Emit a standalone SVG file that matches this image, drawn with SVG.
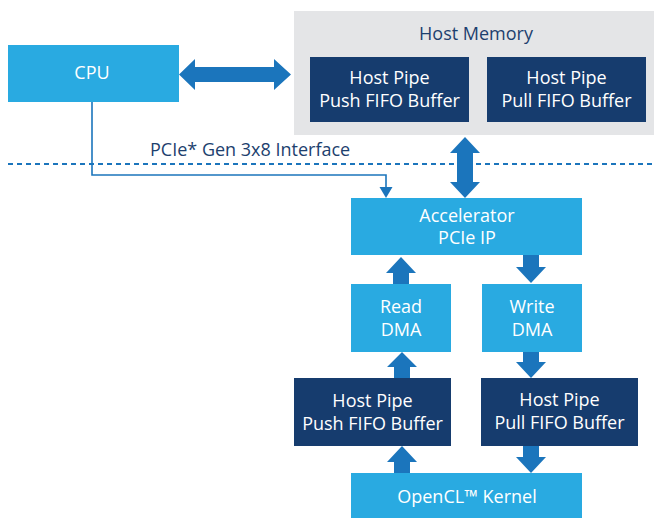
<svg xmlns="http://www.w3.org/2000/svg" width="654" height="519" viewBox="0 0 654 519">
<style>
.lb{fill:#29aae1}
.nv{fill:#163c6e}
.ar{fill:#1b75bc}
.tw{fill:#ffffff;font-family:"Open Sans","Noto Sans",sans-serif;font-size:18px;text-anchor:middle}
.td{fill:#1d3f6e;font-family:"Open Sans","Noto Sans",sans-serif;font-size:18px}
</style>
<rect width="654" height="519" fill="#ffffff"/>
<g id="host-memory">
<rect x="294" y="11" width="360" height="124" fill="#e4e5e7"/>
<text class="td" x="476" y="40" text-anchor="middle" font-size="18.5">Host Memory</text>
</g>
<g id="host-push-top">
<rect class="nv" x="310" y="57" width="159" height="65"/>
<text class="tw" x="389.5" y="84">Host Pipe</text>
<text class="tw" x="389.5" y="107">Push FIFO Buffer</text>
</g>
<g id="host-pull-top">
<rect class="nv" x="487" y="57" width="159" height="65"/>
<text class="tw" x="566.5" y="84">Host Pipe</text>
<text class="tw" x="566.5" y="107">Pull FIFO Buffer</text>
</g>
<g id="cpu">
<rect class="lb" x="8" y="45" width="171" height="57"/>
<text class="tw" x="92" y="79">CPU</text>
</g>
<g id="accelerator">
<rect class="lb" x="351" y="198" width="231" height="57"/>
<text class="tw" x="467" y="222">Accelerator</text>
<text class="tw" x="467" y="244">PCIe IP</text>
</g>
<g id="read-dma">
<rect class="lb" x="351" y="284" width="100" height="68"/>
<text class="tw" x="401" y="313">Read</text>
<text class="tw" x="401" y="336">DMA</text>
</g>
<g id="write-dma">
<rect class="lb" x="482" y="284" width="100" height="68"/>
<text class="tw" x="532" y="313">Write</text>
<text class="tw" x="532" y="336">DMA</text>
</g>
<g id="host-push-bottom">
<rect class="nv" x="294" y="378" width="157" height="68"/>
<text class="tw" x="372.5" y="407">Host Pipe</text>
<text class="tw" x="372.5" y="430">Push FIFO Buffer</text>
</g>
<g id="host-pull-bottom">
<rect class="nv" x="481" y="378" width="157" height="68"/>
<text class="tw" x="559.5" y="406">Host Pipe</text>
<text class="tw" x="559.5" y="429">Pull FIFO Buffer</text>
</g>
<g id="kernel">
<rect class="lb" x="351" y="473" width="231" height="45"/>
<text class="tw" x="467" y="503">OpenCL™ Kernel</text>
</g>
<g id="interface">
<line x1="8" y1="164" x2="654" y2="164" stroke="#1b75bc" stroke-width="2" stroke-dasharray="5,4"/>
<text class="td" x="150" y="156">PCIe* Gen 3x8 Interface</text>
</g>
<g id="connectors">
<polygon class="ar" points="179,74.5 195,59 195,67 274,67 274,59 291,74.5 274,90 274,82 195,82 195,90"/>
<polyline points="92,102 92,175 386,175 386,188" fill="none" stroke="#1b75bc" stroke-width="1.6"/>
<polygon class="ar" points="379.5,187 392.5,187 386,198"/>
<polygon class="ar" points="465,137 480,153 473,153 473,182 480,182 465,198 450,182 457,182 457,153 450,153"/>
<polygon class="ar" points="401,257 416,273 409,273 409,284 393,284 393,273 386,273"/>
<polygon class="ar" points="523,255 539,255 539,267 546,267 531,283 516,267 523,267"/>
<polygon class="ar" points="402,352 417,367 410,367 410,378 394,378 394,367 387,367"/>
<polygon class="ar" points="402,446 417,462 410,462 410,473 394,473 394,462 387,462"/>
<polygon class="ar" points="523,352 539,352 539,362 546,362 531,378 516,362 523,362"/>
<polygon class="ar" points="523,446 539,446 539,457 546,457 531,473 516,457 523,457"/>
</g>
</svg>
